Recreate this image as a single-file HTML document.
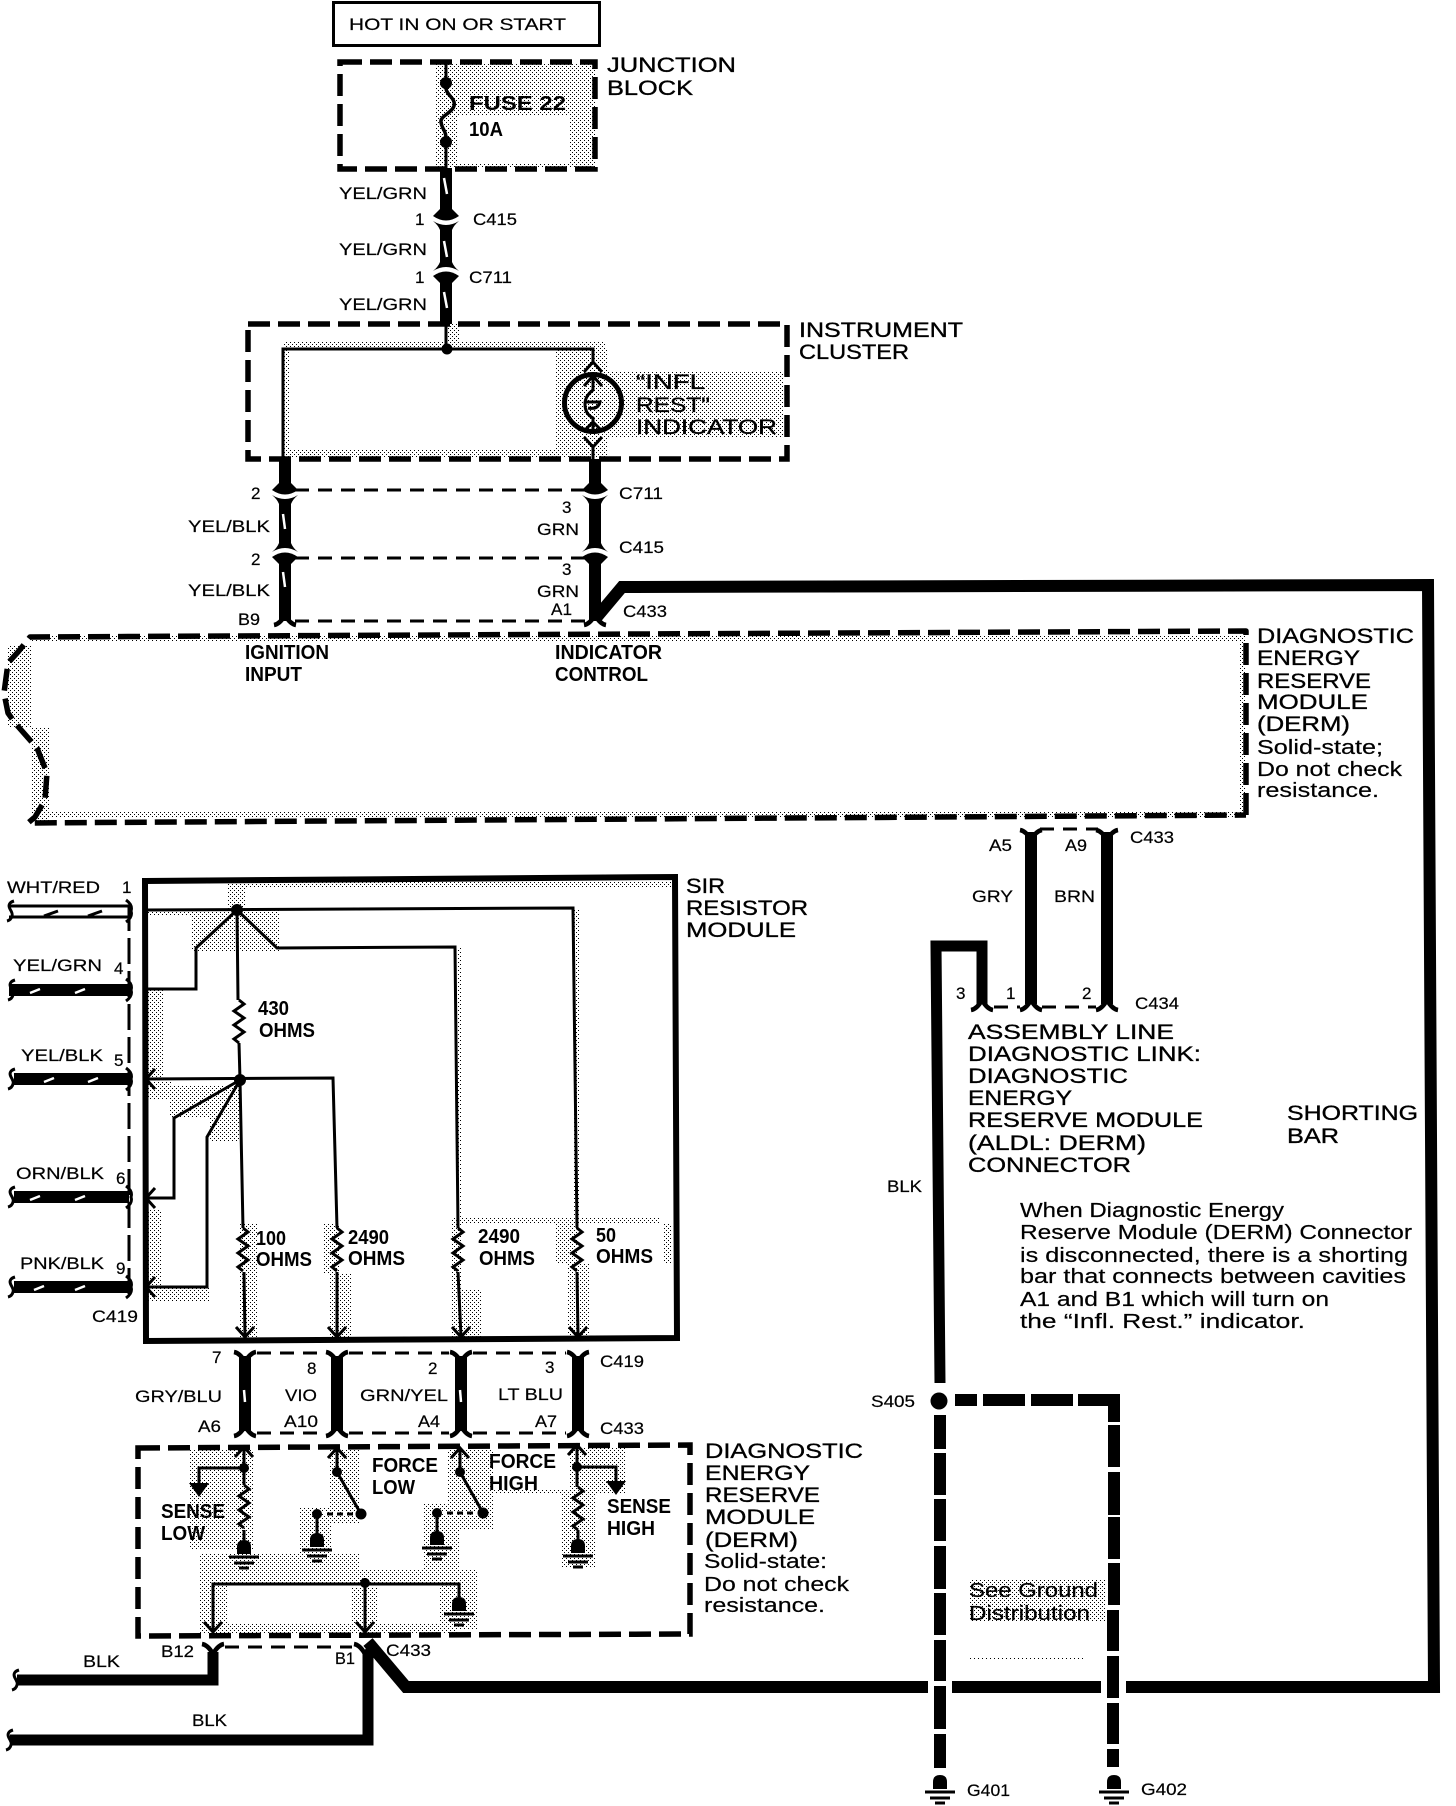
<!DOCTYPE html>
<html><head><meta charset="utf-8"><style>
html,body{margin:0;padding:0;background:#fff}
svg{display:block}
text{font-family:"Liberation Sans",sans-serif;fill:#000}
.s{font-size:17px;stroke:#000;stroke-width:.2}
.h{font-size:21px;stroke:#000;stroke-width:.35}
.b{font-size:20px;font-weight:bold}
.n{font-size:20px;stroke:#000;stroke-width:.2}
.t{fill:none;stroke:#000;stroke-width:3}
.d{fill:none;stroke:#000;stroke-width:5.5;stroke-dasharray:22 8}
.c{fill:none;stroke:#000;stroke-width:3;stroke-dasharray:14 9}
.w{fill:none;stroke:#000;stroke-width:12}
.k{fill:none;stroke:#000;stroke-width:11}
.q{stroke:#fff;stroke-width:2.5}
</style></head><body>
<svg xmlns="http://www.w3.org/2000/svg" width="1456" height="1806" viewBox="0 0 1456 1806">
<defs>
<pattern id="p" width="4" height="4" patternUnits="userSpaceOnUse"><rect width="1" height="1" x="0" y="0"/><rect width="1" height="1" x="2" y="2"/></pattern>
<path id="ya" d="M-11,-4 Q-5,-3 0,6 Q5,-3 11,-4" fill="none" stroke="#000" stroke-width="4.5"/>
<path id="yb" d="M-11,4 Q-5,3 0,-6 Q5,3 11,4" fill="none" stroke="#000" stroke-width="4.5"/>
<g id="cu"><path d="M-6,-12 L-13,-5 Q0,4 13,-5 L6,-12Z"/><path d="M-6,12 V9 Q-8,4 -13,0 Q0,8 13,0 Q8,4 6,9 V12Z"/></g>
<g id="cn" transform="scale(1,-1)"><use href="#cu"/></g>
<path id="au" d="M-9,10 L0,0 L9,10" class="t"/>
<path id="ad" d="M-9,-10 L0,0 L9,-10" class="t"/>
<path id="al" d="M9,-10 L0,0 L9,10" class="t"/>
<path id="r" d="M0,0 l5,4 -10,7 10,7 -10,7 10,7 -10,7 5,4" class="t"/>
<g id="g"><path d="M-7,-3 V-10 Q-7,-17 0,-17 Q7,-17 7,-10 V-3 Z"/><path d="M-15,0 H15 M-10,6 H10 M-5,11 H5" class="t"/></g>
<path id="sl" d="M3,-10 Q-4,-8 -1,-2 Q2,3 1,5 Q0,9 -4,10" class="t"/>
<path id="sr" d="M-3,-11 Q4,-6 2,0 Q4,6 -3,11" class="t"/>
</defs>
<rect width="1456" height="1806" fill="#fff"/>

<!-- stipple -->
<g fill="url(#p)">
<path d="M435 63H595V168H435Z M458 116V164H570V116Z" fill-rule="evenodd"/>
<rect x="447" y="324" width="13" height="25"/><rect x="284" y="342" width="322" height="8"/>
<rect x="284" y="350" width="6" height="108"/><rect x="284" y="450" width="272" height="8"/>
<rect x="555" y="347" width="53" height="111"/><rect x="608" y="372" width="176" height="66"/>
<rect x="30" y="636" width="1215" height="5"/><rect x="40" y="812" width="1205" height="5"/>
<rect x="8" y="645" width="24" height="82"/><rect x="32" y="727" width="18" height="95"/><rect x="1240" y="635" width="5" height="180"/>
<rect x="228" y="882" width="446" height="5"/><rect x="228" y="883" width="17" height="27"/>
<rect x="147" y="910" width="132" height="6"/><rect x="192" y="916" width="87" height="36"/>
<rect x="147" y="990" width="16" height="88"/><rect x="147" y="1082" width="25" height="18"/><rect x="170" y="1085" width="70" height="33"/><rect x="210" y="1118" width="30" height="23"/>
<rect x="147" y="1210" width="14" height="90"/><rect x="147" y="1288" width="63" height="14"/>
<rect x="239" y="1223" width="18" height="114"/><rect x="324" y="1223" width="16" height="50"/><rect x="330" y="1273" width="22" height="64"/>
<rect x="451" y="1217" width="11" height="73"/><rect x="451" y="1290" width="31" height="47"/><rect x="460" y="1217" width="200" height="6"/>
<rect x="556" y="1223" width="22" height="40"/><rect x="567" y="1263" width="22" height="74"/><rect x="663" y="1223" width="9" height="40"/>
<rect x="574" y="910" width="5" height="313"/><rect x="457" y="948" width="5" height="270"/>
<rect x="189" y="1450" width="64" height="100"/><rect x="199" y="1553" width="161" height="30"/>
<rect x="199" y="1583" width="29" height="50"/><rect x="228" y="1570" width="250" height="13"/>
<rect x="352" y="1587" width="26" height="46"/><rect x="439" y="1583" width="39" height="47"/>
<rect x="228" y="1623" width="229" height="10"/><rect x="330" y="1450" width="30" height="73"/>
<rect x="299" y="1507" width="33" height="56"/><rect x="447" y="1450" width="46" height="80"/>
<rect x="424" y="1503" width="36" height="70"/><rect x="569" y="1448" width="56" height="45"/>
<rect x="562" y="1493" width="33" height="75"/><rect x="493" y="1490" width="76" height="4"/>
<rect x="970" y="1580" width="135" height="42"/><rect x="970" y="1658" width="114" height="2"/>
</g>

<!-- top -->
<rect x="333.500" y="2.500" width="266" height="43" fill="#fff" stroke="#000" stroke-width="3"/>
<rect x="340" y="62" width="255" height="107" class="d"/>
<path d="M446 62V80 M446 145V168" class="t"/>
<circle cx="446" cy="83" r="6"/><circle cx="446" cy="142" r="6"/>
<path d="M446 88 C446 95 456 98 454 106 C452 113 440 116 441 122 C442 130 446 130 446 138" fill="none" stroke="#000" stroke-width="3.500"/>
<path d="M446 168V210 M446 232V260 M446 282V324" class="w"/>
<use href="#cu" x="446" y="221"/><use href="#cn" x="446" y="271"/>
<path d="M444 178l3,16 M444 241l3,16 M444 292l3,16" class="q"/>

<!-- cluster -->
<rect x="248" y="324" width="539" height="135" class="d"/>
<path d="M446 324V349 M283 459V349H593V362 M593 447V460" class="t"/>
<circle cx="447" cy="349" r="5.500"/>
<use href="#au" x="593" y="362"/><use href="#ad" x="593" y="447"/>
<circle cx="593" cy="403" r="28.500" fill="none" stroke="#000" stroke-width="5"/>
<path d="M593 376V390 Q585 396 585 404 Q585 414 593 418 V431 M586 402 H600 Q598 410 588 408 M584 386l9,-10 9,10 M584 431l9,-9 9,9" class="t"/>

<path d="M285 459V484 M285 506V541 M285 563V621 M595 459V484 M595 506V541 M595 563V621" class="w"/>
<use href="#cu" x="285" y="495"/><use href="#cn" x="285" y="552"/><use href="#yb" x="285" y="621"/>
<use href="#cu" x="595" y="495"/><use href="#cn" x="595" y="552"/><use href="#yb" x="595" y="621"/>
<path d="M283 514l2,15 M283 572l2,15" class="q"/>
<path d="M295 490H585 M295 558H585 M295 621H585" class="c"/>

<!-- shorting bar -->
<path d="M596 618L622 587L1428 585L1434 1687L1126 1687" class="w"/>
<path d="M1101 1687H952 M928 1687H406L368 1642" class="w"/>

<!-- big DERM box -->
<path d="M1246 815L1246 631L30 637L18 652L8 663L4 693L8 713L15 723L37 748L47 773L45 800L35 817L28 823L1246 815" class="d" stroke-linejoin="round"/>

<!-- GRY BRN -->
<path d="M1031 832V1004 M1107 832V1004" class="w"/>
<use href="#ya" x="1031" y="834"/><use href="#ya" x="1107" y="834"/><use href="#yb" x="982" y="1006"/><use href="#yb" x="1031" y="1006"/><use href="#yb" x="1107" y="1006"/>
<path d="M1040 829H1098 M994 1007H1020 M1042 1007H1096" class="c"/>
<path d="M982 1004V946H936L940 1383" class="k"/>

<!-- ground dashes -->
<circle cx="939" cy="1401" r="8.500"/>
<path d="M940 1415V1449 M940 1453V1495 M940 1499V1541 M940 1546V1589 M940 1593V1635 M940 1640V1681 M940 1686V1729 M940 1734V1768" class="w"/>
<path d="M955 1400H977 M983 1400H1025 M1031 1400H1073 M1078 1400H1120" class="w"/>
<path d="M1114 1400V1422 M1114 1425V1467 M1114 1472V1515 M1114 1517V1559 M1114 1563V1605 M1113 1610V1651 M1113 1656V1698 M1113 1703V1744 M1113 1749V1767" class="w"/>
<use href="#g" x="940" y="1792"/><use href="#g" x="1114" y="1792"/>

<!-- SIR module -->
<path d="M145 881L675 877L677 1338L146 1341Z" fill="none" stroke="#000" stroke-width="6"/>
<path d="M129 905V1300" fill="none" stroke="#000" stroke-width="3" stroke-dasharray="26 7"/>
<path d="M9 906H129 M9 917H129" class="t"/><path d="M44 916l14,-5 M88 916l14,-5" stroke="#000" stroke-width="3"/>
<path d="M9 990H129 M14 1079H129 M14 1197H129 M14 1287H129" class="w"/>
<path d="M30 993l10,-4 M75 993l10,-4 M44 1082l10,-4 M88 1082l10,-4 M30 1200l10,-4 M75 1200l10,-4 M34 1290l10,-4 M75 1290l10,-4" class="q"/>
<use href="#sl" x="11" y="911"/><use href="#sl" x="12" y="990"/><use href="#sl" x="12" y="1079"/><use href="#sl" x="12" y="1197"/><use href="#sl" x="12" y="1287"/>
<use href="#sr" x="129" y="911"/><use href="#sr" x="129" y="990"/><use href="#sr" x="129" y="1079"/><use href="#sr" x="129" y="1197"/><use href="#sr" x="129" y="1287"/>

<path d="M145 910L573 908L577 1228 M577 1272L578 1335 M145 989H196V948L237 910 M237 910L277 948L455 947L458 1228 M458 1272L461 1337 M237 910L238 1000 M239 1043L240 1080 M145 1079L333 1078L337 1228 M337 1272V1337 M240 1080L243 1228 M244 1272L245 1337 M240 1080L174 1118V1198H145 M240 1080L207 1137V1287H145" class="t" stroke-linejoin="miter"/>
<circle cx="237" cy="910" r="6"/><circle cx="240" cy="1080" r="6"/>
<use href="#r" x="239" y="1000"/><use href="#r" x="243" y="1228"/><use href="#r" x="337" y="1228"/><use href="#r" x="458" y="1228"/><use href="#r" x="577" y="1228"/>
<use href="#al" x="146" y="1079"/><use href="#al" x="146" y="1198"/><use href="#al" x="146" y="1287"/>
<use href="#ad" x="245" y="1337"/><use href="#ad" x="337" y="1337"/><use href="#ad" x="461" y="1337"/><use href="#ad" x="578" y="1337"/>

<!-- C419 C433 row -->
<path d="M245 1356V1431 M337 1356V1431 M461 1356V1431 M578 1356V1431" class="w"/>
<use href="#ya" x="245" y="1356"/><use href="#ya" x="337" y="1356"/><use href="#ya" x="461" y="1356"/><use href="#ya" x="578" y="1356"/>
<use href="#yb" x="245" y="1432"/><use href="#yb" x="337" y="1432"/><use href="#yb" x="461" y="1432"/><use href="#yb" x="578" y="1432"/>
<path d="M257 1353H325 M349 1353H449 M473 1353H566 M257 1433H325 M349 1433H449 M473 1433H566" class="c"/>
<path d="M244 1390l1,12 M460 1390l1,12" class="q"/>

<!-- lower DERM -->
<path d="M138 1448L690 1445V1634L138 1636Z" class="d"/>
<path d="M244 1447V1485 M244 1468H199V1484 M244 1530V1540" class="t"/>
<use href="#au" x="244" y="1447"/><circle cx="244" cy="1468" r="5"/><path d="M189 1483H209L199 1497Z"/>
<use href="#r" x="244" y="1485"/><use href="#g" x="244" y="1557"/>
<path d="M337 1448V1472L361 1514 M317 1514V1540 M323 1514H355" class="t"/>
<path d="M323 1514H355" stroke="#fff" stroke-width="4" stroke-dasharray="4 6"/>
<use href="#au" x="337" y="1448"/><circle cx="337" cy="1472" r="5"/><circle cx="361" cy="1514" r="5.500"/><circle cx="317" cy="1514" r="5"/>
<use href="#g" x="317" y="1550"/>
<path d="M460 1448V1472L483 1513 M437 1513V1540 M443 1513H477" class="t"/>
<path d="M443 1513H477" stroke="#fff" stroke-width="4" stroke-dasharray="4 6"/>
<use href="#au" x="460" y="1448"/><circle cx="460" cy="1472" r="5"/><circle cx="483" cy="1513" r="5.500"/><circle cx="437" cy="1513" r="5"/>
<use href="#g" x="437" y="1548"/>
<path d="M577 1445V1487 M577 1467H616V1482 M578 1530V1540" class="t"/>
<use href="#au" x="577" y="1445"/><circle cx="577" cy="1467" r="5"/><path d="M606 1481H626L616 1495Z"/>
<use href="#r" x="578" y="1487"/><use href="#g" x="578" y="1556"/>
<path d="M213 1632V1584H459V1597 M365 1578V1632" class="t"/>
<circle cx="365" cy="1583" r="5"/><use href="#ad" x="213" y="1632"/><use href="#ad" x="365" y="1632"/>
<use href="#g" x="459" y="1614"/>

<!-- BLK lower -->
<use href="#ya" x="213" y="1648"/><use href="#ya" x="365" y="1648"/>
<path d="M225 1647H352" class="c"/>
<path d="M213 1652V1680H17 M368 1652V1740H10" class="k" stroke-linejoin="miter"/>
<use href="#sl" x="16" y="1680"/><use href="#sl" x="10" y="1740"/>

<!-- text -->
<g>
<text class="s" x="349" y="30" textLength="217" lengthAdjust="spacingAndGlyphs">HOT IN ON OR START</text>
<text class="h" x="607" y="72" textLength="129" lengthAdjust="spacingAndGlyphs">JUNCTION</text>
<text class="h" x="607" y="95" textLength="86" lengthAdjust="spacingAndGlyphs">BLOCK</text>
<text class="b" x="469" y="110" textLength="97" lengthAdjust="spacingAndGlyphs">FUSE 22</text>
<text class="b" x="469" y="136" textLength="34" lengthAdjust="spacingAndGlyphs">10A</text>
<text class="s" x="339" y="199" textLength="88" lengthAdjust="spacingAndGlyphs">YEL/GRN</text>
<text class="s" x="415" y="225">1</text>
<text class="s" x="473" y="225" textLength="44" lengthAdjust="spacingAndGlyphs">C415</text>
<text class="s" x="339" y="255" textLength="88" lengthAdjust="spacingAndGlyphs">YEL/GRN</text>
<text class="s" x="415" y="283">1</text>
<text class="s" x="469" y="283" textLength="43" lengthAdjust="spacingAndGlyphs">C711</text>
<text class="s" x="339" y="310" textLength="88" lengthAdjust="spacingAndGlyphs">YEL/GRN</text>
<text class="h" x="799" y="337" textLength="164" lengthAdjust="spacingAndGlyphs">INSTRUMENT</text>
<text class="h" x="799" y="359" textLength="110" lengthAdjust="spacingAndGlyphs">CLUSTER</text>
<text class="h" x="636" y="389" textLength="69" lengthAdjust="spacingAndGlyphs">“INFL</text>
<text class="h" x="636" y="412" textLength="74" lengthAdjust="spacingAndGlyphs">REST"</text>
<text class="h" x="636" y="434" textLength="141" lengthAdjust="spacingAndGlyphs">INDICATOR</text>
<text class="s" x="251" y="499">2</text>
<text class="s" x="562" y="513">3</text>
<text class="s" x="619" y="499" textLength="44" lengthAdjust="spacingAndGlyphs">C711</text>
<text class="s" x="188" y="532" textLength="82" lengthAdjust="spacingAndGlyphs">YEL/BLK</text>
<text class="s" x="537" y="535" textLength="42" lengthAdjust="spacingAndGlyphs">GRN</text>
<text class="s" x="619" y="553" textLength="45" lengthAdjust="spacingAndGlyphs">C415</text>
<text class="s" x="251" y="565">2</text>
<text class="s" x="562" y="575">3</text>
<text class="s" x="188" y="596" textLength="82" lengthAdjust="spacingAndGlyphs">YEL/BLK</text>
<text class="s" x="537" y="597" textLength="42" lengthAdjust="spacingAndGlyphs">GRN</text>
<text class="s" x="551" y="615" textLength="21" lengthAdjust="spacingAndGlyphs">A1</text>
<text class="s" x="238" y="625" textLength="22" lengthAdjust="spacingAndGlyphs">B9</text>
<text class="s" x="623" y="617" textLength="44" lengthAdjust="spacingAndGlyphs">C433</text>
<text class="b" x="245" y="659" textLength="84" lengthAdjust="spacingAndGlyphs">IGNITION</text>
<text class="b" x="245" y="681" textLength="57" lengthAdjust="spacingAndGlyphs">INPUT</text>
<text class="b" x="555" y="659" textLength="107" lengthAdjust="spacingAndGlyphs">INDICATOR</text>
<text class="b" x="555" y="681" textLength="93" lengthAdjust="spacingAndGlyphs">CONTROL</text>

<text class="h" x="1257" y="643" textLength="157" lengthAdjust="spacingAndGlyphs">DIAGNOSTIC</text>
<text class="h" x="1257" y="665" textLength="103" lengthAdjust="spacingAndGlyphs">ENERGY</text>
<text class="h" x="1257" y="688" textLength="114" lengthAdjust="spacingAndGlyphs">RESERVE</text>
<text class="h" x="1257" y="709" textLength="111" lengthAdjust="spacingAndGlyphs">MODULE</text>
<text class="h" x="1257" y="731" textLength="93" lengthAdjust="spacingAndGlyphs">(DERM)</text>
<text class="n" x="1257" y="754" textLength="126" lengthAdjust="spacingAndGlyphs">Solid-state;</text>
<text class="n" x="1257" y="776" textLength="145" lengthAdjust="spacingAndGlyphs">Do not check</text>
<text class="n" x="1257" y="797" textLength="122" lengthAdjust="spacingAndGlyphs">resistance.</text>

<text class="s" x="1130" y="843" textLength="44" lengthAdjust="spacingAndGlyphs">C433</text>
<text class="s" x="989" y="851" textLength="23" lengthAdjust="spacingAndGlyphs">A5</text>
<text class="s" x="1065" y="851" textLength="22" lengthAdjust="spacingAndGlyphs">A9</text>
<text class="s" x="972" y="902" textLength="41" lengthAdjust="spacingAndGlyphs">GRY</text>
<text class="s" x="1054" y="902" textLength="41" lengthAdjust="spacingAndGlyphs">BRN</text>
<text class="s" x="956" y="999">3</text>
<text class="s" x="1006" y="999">1</text>
<text class="s" x="1082" y="999">2</text>
<text class="s" x="1135" y="1009" textLength="44" lengthAdjust="spacingAndGlyphs">C434</text>
<text class="h" x="968" y="1039" textLength="206" lengthAdjust="spacingAndGlyphs">ASSEMBLY LINE</text>
<text class="h" x="968" y="1061" textLength="233" lengthAdjust="spacingAndGlyphs">DIAGNOSTIC LINK:</text>
<text class="h" x="968" y="1083" textLength="160" lengthAdjust="spacingAndGlyphs">DIAGNOSTIC</text>
<text class="h" x="968" y="1105" textLength="104" lengthAdjust="spacingAndGlyphs">ENERGY</text>
<text class="h" x="968" y="1127" textLength="235" lengthAdjust="spacingAndGlyphs">RESERVE MODULE</text>
<text class="h" x="968" y="1150" textLength="178" lengthAdjust="spacingAndGlyphs">(ALDL: DERM)</text>
<text class="h" x="968" y="1172" textLength="163" lengthAdjust="spacingAndGlyphs">CONNECTOR</text>
<text class="h" x="1287" y="1120" textLength="131" lengthAdjust="spacingAndGlyphs">SHORTING</text>
<text class="h" x="1287" y="1143" textLength="52" lengthAdjust="spacingAndGlyphs">BAR</text>
<text class="s" x="887" y="1192" textLength="35" lengthAdjust="spacingAndGlyphs">BLK</text>
<text class="n" x="1020" y="1217" textLength="264" lengthAdjust="spacingAndGlyphs">When Diagnostic Energy</text>
<text class="n" x="1020" y="1239" textLength="392" lengthAdjust="spacingAndGlyphs">Reserve Module (DERM) Connector</text>
<text class="n" x="1020" y="1262" textLength="388" lengthAdjust="spacingAndGlyphs">is disconnected, there is a shorting</text>
<text class="n" x="1020" y="1283" textLength="386" lengthAdjust="spacingAndGlyphs">bar that connects between cavities</text>
<text class="n" x="1020" y="1306" textLength="309" lengthAdjust="spacingAndGlyphs">A1 and B1 which will turn on</text>
<text class="n" x="1020" y="1328" textLength="285" lengthAdjust="spacingAndGlyphs">the “Infl. Rest.” indicator.</text>

<text class="s" x="7" y="893" textLength="93" lengthAdjust="spacingAndGlyphs">WHT/RED</text>
<text class="s" x="122" y="893">1</text>
<text class="s" x="13" y="971" textLength="89" lengthAdjust="spacingAndGlyphs">YEL/GRN</text>
<text class="s" x="114" y="974">4</text>
<text class="s" x="21" y="1061" textLength="82" lengthAdjust="spacingAndGlyphs">YEL/BLK</text>
<text class="s" x="114" y="1066">5</text>
<text class="s" x="16" y="1179" textLength="88" lengthAdjust="spacingAndGlyphs">ORN/BLK</text>
<text class="s" x="116" y="1184">6</text>
<text class="s" x="20" y="1269" textLength="84" lengthAdjust="spacingAndGlyphs">PNK/BLK</text>
<text class="s" x="116" y="1274">9</text>
<text class="s" x="92" y="1322" textLength="46" lengthAdjust="spacingAndGlyphs">C419</text>
<text class="b" x="258" y="1015" textLength="31" lengthAdjust="spacingAndGlyphs">430</text>
<text class="b" x="259" y="1037" textLength="56" lengthAdjust="spacingAndGlyphs">OHMS</text>
<text class="b" x="256" y="1245" textLength="30" lengthAdjust="spacingAndGlyphs">100</text>
<text class="b" x="256" y="1266" textLength="56" lengthAdjust="spacingAndGlyphs">OHMS</text>
<text class="b" x="348" y="1244" textLength="41" lengthAdjust="spacingAndGlyphs">2490</text>
<text class="b" x="348" y="1265" textLength="57" lengthAdjust="spacingAndGlyphs">OHMS</text>
<text class="b" x="478" y="1243" textLength="42" lengthAdjust="spacingAndGlyphs">2490</text>
<text class="b" x="479" y="1265" textLength="56" lengthAdjust="spacingAndGlyphs">OHMS</text>
<text class="b" x="596" y="1242" textLength="20" lengthAdjust="spacingAndGlyphs">50</text>
<text class="b" x="596" y="1263" textLength="57" lengthAdjust="spacingAndGlyphs">OHMS</text>
<text class="h" x="686" y="893" textLength="39" lengthAdjust="spacingAndGlyphs">SIR</text>
<text class="h" x="686" y="915" textLength="122" lengthAdjust="spacingAndGlyphs">RESISTOR</text>
<text class="h" x="686" y="937" textLength="110" lengthAdjust="spacingAndGlyphs">MODULE</text>

<text class="s" x="212" y="1363">7</text>
<text class="s" x="307" y="1374">8</text>
<text class="s" x="428" y="1374">2</text>
<text class="s" x="545" y="1373">3</text>
<text class="s" x="600" y="1367" textLength="44" lengthAdjust="spacingAndGlyphs">C419</text>
<text class="s" x="135" y="1402" textLength="87" lengthAdjust="spacingAndGlyphs">GRY/BLU</text>
<text class="s" x="285" y="1401" textLength="32" lengthAdjust="spacingAndGlyphs">VIO</text>
<text class="s" x="360" y="1401" textLength="88" lengthAdjust="spacingAndGlyphs">GRN/YEL</text>
<text class="s" x="498" y="1400" textLength="65" lengthAdjust="spacingAndGlyphs">LT BLU</text>
<text class="s" x="198" y="1432" textLength="23" lengthAdjust="spacingAndGlyphs">A6</text>
<text class="s" x="284" y="1427" textLength="34" lengthAdjust="spacingAndGlyphs">A10</text>
<text class="s" x="418" y="1427" textLength="22" lengthAdjust="spacingAndGlyphs">A4</text>
<text class="s" x="535" y="1427" textLength="22" lengthAdjust="spacingAndGlyphs">A7</text>
<text class="s" x="600" y="1434" textLength="44" lengthAdjust="spacingAndGlyphs">C433</text>
<text class="h" x="705" y="1458" textLength="158" lengthAdjust="spacingAndGlyphs">DIAGNOSTIC</text>
<text class="h" x="705" y="1480" textLength="105" lengthAdjust="spacingAndGlyphs">ENERGY</text>
<text class="h" x="705" y="1502" textLength="115" lengthAdjust="spacingAndGlyphs">RESERVE</text>
<text class="h" x="705" y="1524" textLength="110" lengthAdjust="spacingAndGlyphs">MODULE</text>
<text class="h" x="705" y="1547" textLength="93" lengthAdjust="spacingAndGlyphs">(DERM)</text>
<text class="n" x="704" y="1568" textLength="123" lengthAdjust="spacingAndGlyphs">Solid-state:</text>
<text class="n" x="704" y="1591" textLength="145" lengthAdjust="spacingAndGlyphs">Do not check</text>
<text class="n" x="704" y="1612" textLength="121" lengthAdjust="spacingAndGlyphs">resistance.</text>
<text class="b" x="372" y="1472" textLength="66" lengthAdjust="spacingAndGlyphs">FORCE</text>
<text class="b" x="372" y="1494" textLength="43" lengthAdjust="spacingAndGlyphs">LOW</text>
<text class="b" x="489" y="1468" textLength="67" lengthAdjust="spacingAndGlyphs">FORCE</text>
<text class="b" x="489" y="1490" textLength="49" lengthAdjust="spacingAndGlyphs">HIGH</text>
<text class="b" x="161" y="1518" textLength="64" lengthAdjust="spacingAndGlyphs">SENSE</text>
<text class="b" x="161" y="1540" textLength="44" lengthAdjust="spacingAndGlyphs">LOW</text>
<text class="b" x="607" y="1513" textLength="64" lengthAdjust="spacingAndGlyphs">SENSE</text>
<text class="b" x="607" y="1535" textLength="48" lengthAdjust="spacingAndGlyphs">HIGH</text>
<text class="s" x="161" y="1657" textLength="33" lengthAdjust="spacingAndGlyphs">B12</text>
<text class="s" x="335" y="1664" textLength="20" lengthAdjust="spacingAndGlyphs">B1</text>
<text class="s" x="386" y="1656" textLength="45" lengthAdjust="spacingAndGlyphs">C433</text>
<text class="s" x="83" y="1667" textLength="37" lengthAdjust="spacingAndGlyphs">BLK</text>
<text class="s" x="192" y="1726" textLength="35" lengthAdjust="spacingAndGlyphs">BLK</text>
<text class="s" x="871" y="1407" textLength="44" lengthAdjust="spacingAndGlyphs">S405</text>
<text class="n" x="969" y="1597" textLength="129" lengthAdjust="spacingAndGlyphs">See Ground</text>
<text class="n" x="969" y="1620" textLength="121" lengthAdjust="spacingAndGlyphs">Distribution</text>
<text class="s" x="967" y="1796" textLength="43" lengthAdjust="spacingAndGlyphs">G401</text>
<text class="s" x="1141" y="1795" textLength="46" lengthAdjust="spacingAndGlyphs">G402</text>
</g>
</svg>
</body></html>
